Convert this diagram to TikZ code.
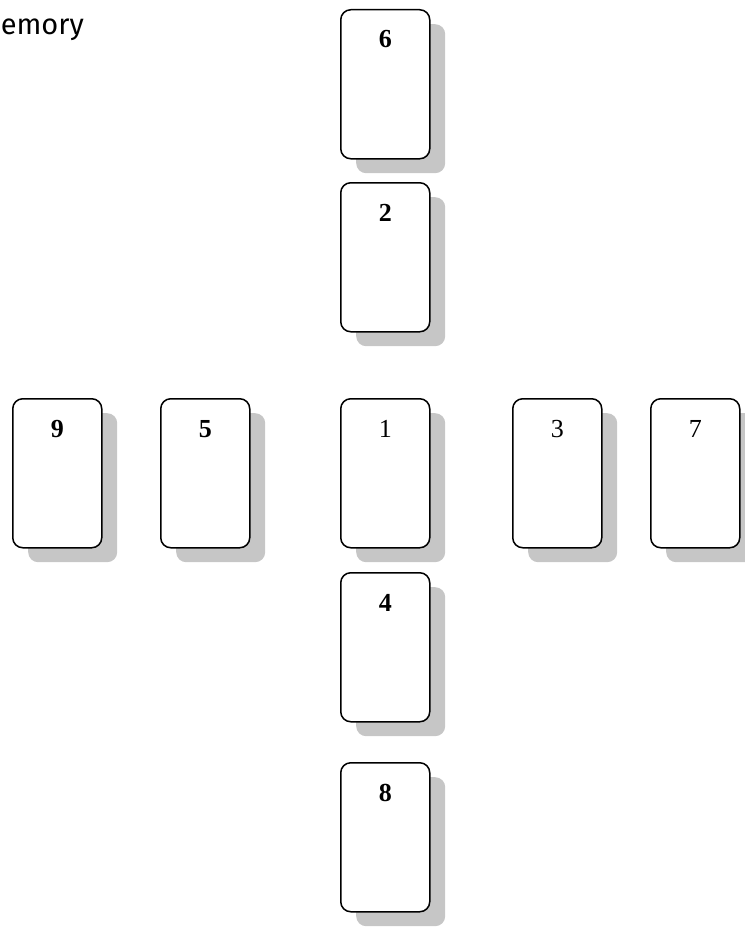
\documentclass[tikz,border=0pt]{standalone}
\usepackage{fontspec}
\setmainfont{Liberation Serif}
\newfontfamily\memfont{Fira Sans}
\newcommand\mycard[4]{%
  \node[shadowbox] (s#1) at (#2+16,#3+15) {};
  \node[card] (c#1) at (#2,#3) {};
  \node[num] (n#1) at ([yshift=-39pt]c#1.north) {#4};
}
\begin{document}
\begin{tikzpicture}[x=1pt,y=-1pt,
  card/.style={draw, line width=1.5pt, rounded corners=10pt, fill=white,
    minimum width=89pt, minimum height=149pt, inner sep=0pt, anchor=north west},
  shadowbox/.style={fill=gray!45, rounded corners=10pt,
    minimum width=89pt, minimum height=149pt, inner sep=0pt, anchor=north west},
  num/.style={font=\fontsize{26}{26}\selectfont, anchor=base, inner sep=0pt}]
\useasboundingbox (0,0) rectangle (744,947);
\node[font=\memfont\fontsize{29}{32}\selectfont, anchor=base west, inner sep=0pt] (title) at (-22,35) {Memory};
\mycard{6}{340}{9}{\textbf{6}}
\mycard{2}{340}{182}{\textbf{2}}
\mycard{9}{12}{398}{\textbf{9}}
\mycard{5}{160}{398}{\textbf{5}}
\mycard{1}{340}{398}{1}
\mycard{3}{512}{398}{3}
\mycard{7}{650}{398}{7}
\mycard{4}{340}{572}{\textbf{4}}
\mycard{8}{340}{762}{\textbf{8}}
\end{tikzpicture}
\end{document}
